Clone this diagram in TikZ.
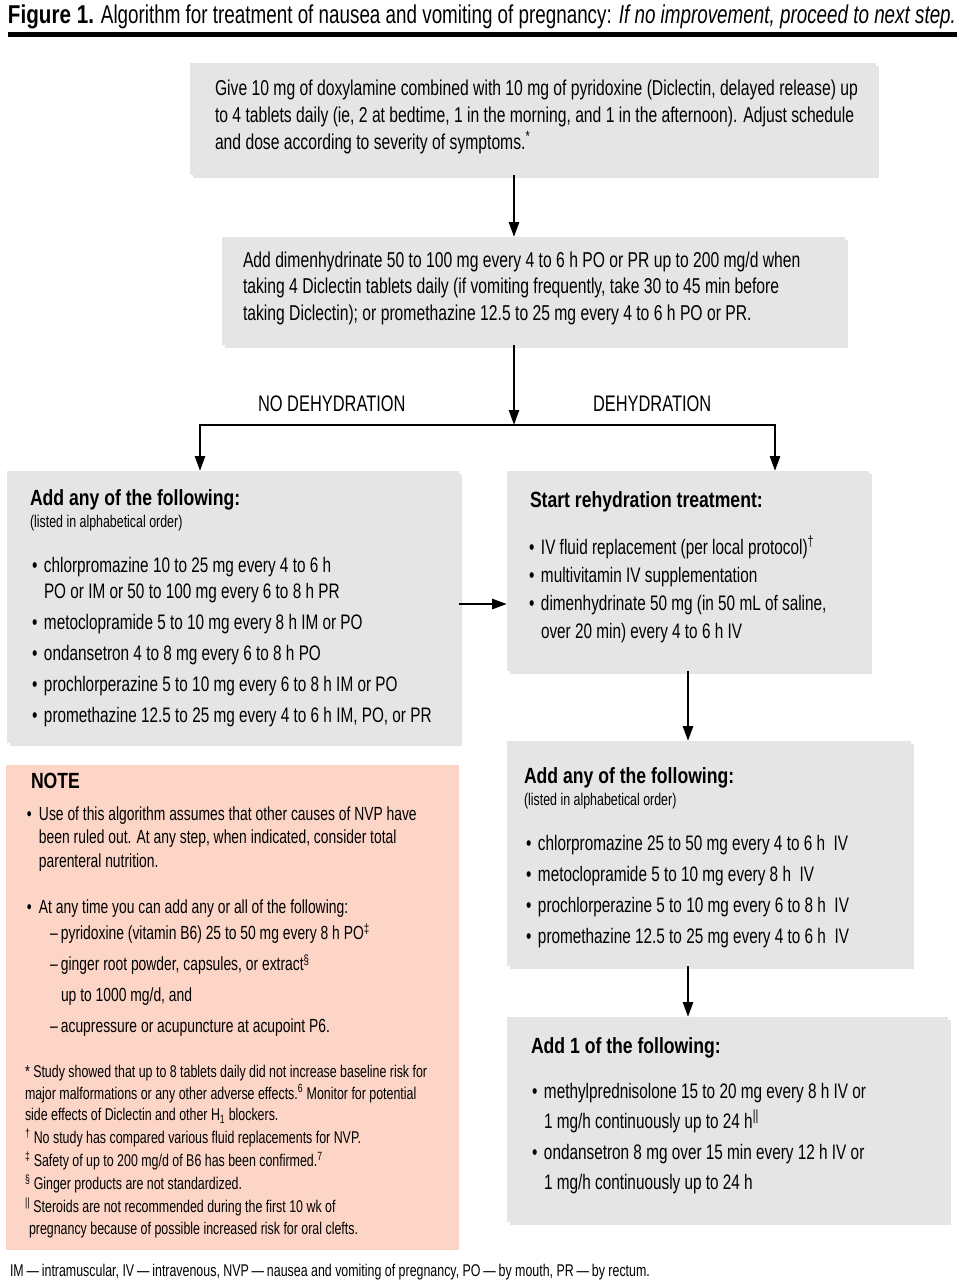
\documentclass[tikz,border=0pt]{standalone}
\usepackage{fontspec}
\setmainfont{Liberation Sans}[FakeStretch=0.73]
\newfontfamily\hdfont{Liberation Sans}[FakeStretch=0.8]
\usetikzlibrary{arrows.meta,shadows}
\definecolor{boxgray}{RGB}{229,229,229}
\definecolor{notepink}{RGB}{252,213,199}
\newcommand\bitem{\makebox[12pt][l]{\textbullet}}
\newcommand\bcont{\hspace*{12pt}}
\tikzset{
  box/.style={fill=boxgray, draw=none, inner sep=0pt, outer sep=0pt,
    drop shadow={shadow xshift=3pt, shadow yshift=-3pt, fill=black, opacity=0.10}},
  notebox/.style={fill=notepink, draw=none, inner sep=0pt, outer sep=0pt},
  txt/.style={anchor=base west, inner sep=0pt, outer sep=0pt, align=left},
  body/.style={txt, font=\fontsize{21}{27}\selectfont},
  head/.style={txt, font=\hdfont\bfseries\fontsize{22}{25}\selectfont},
  small/.style={txt, font=\fontsize{17}{20}\selectfont},
  lbl/.style={txt, font=\fontsize{22.5}{25}\selectfont},
  ln/.style={line width=2.7pt, draw=black},
  arr/.style={ln, -{Triangle[length=15pt, width=10pt]}},
}
\begin{document}
\begin{tikzpicture}[x=1pt, y=-1pt]
\useasboundingbox (0,0) rectangle (968,1280);

% title
\node[txt, font=\fontsize{25.8}{30}\selectfont] (title) at (8,23)
  {{\hdfont\bfseries Figure 1.} Algorithm for treatment of nausea and vomiting of pregnancy: \textit{If no improvement, proceed to next step.}};
\draw[line width=4.5pt] (8,34.5) -- (957,34.5);

% boxes
\node[box, minimum width=686pt, minimum height=112pt] (b1) at (533,119) {};
\node[box, minimum width=623pt, minimum height=108pt] (b2) at (533.5,291) {};
\node[box, minimum width=452pt, minimum height=272pt] (b3) at (233,607) {};
\node[box, minimum width=362pt, minimum height=200pt] (b4) at (688,571) {};
\node[box, minimum width=404pt, minimum height=225pt] (b5) at (709,853.5) {};
\node[box, minimum width=441pt, minimum height=205pt] (b6) at (727.5,1119.5) {};
\node[notebox, minimum width=453pt, minimum height=485pt] (note) at (232.5,1007.5) {};

% box 1 (anchor = last baseline)
\node[body, font=\fontsize{21.5}{27}\selectfont] (t1) at (215,149) {Give 10 mg of doxylamine combined with 10 mg of pyridoxine (Diclectin, delayed release) up\\
to 4 tablets daily (ie, 2 at bedtime, 1 in the morning, and 1 in the afternoon). Adjust schedule\\
and dose according to severity of symptoms.\textsuperscript{*}};

% box 2
\node[body, font=\fontsize{21.5}{26.5}\selectfont] (t2) at (243,320) {Add dimenhydrinate 50 to 100 mg every 4 to 6 h PO or PR up to 200 mg/d when\\
taking 4 Diclectin tablets daily (if vomiting frequently, take 30 to 45 min before\\
taking Diclectin); or promethazine 12.5 to 25 mg every 4 to 6 h PO or PR.};

% branch labels
\node[lbl] (lno) at (258,411) {NO DEHYDRATION};
\node[lbl] (lyes) at (593,411) {DEHYDRATION};

% box 3
\node[head] (h3) at (30,505) {Add any of the following:};
\node[small] (s3) at (30,527) {(listed in alphabetical order)};
\node[body, font=\fontsize{21}{26}\selectfont] (t3) at (32,722) {\bitem chlorpromazine 10 to 25 mg every 4 to 6 h\\
\bcont PO or IM or 50 to 100 mg every 6 to 8 h PR\\[5pt]
\bitem metoclopramide 5 to 10 mg every 8 h IM or PO\\[5pt]
\bitem ondansetron 4 to 8 mg every 6 to 8 h PO\\[5pt]
\bitem prochlorperazine 5 to 10 mg every 6 to 8 h IM or PO\\[5pt]
\bitem promethazine 12.5 to 25 mg every 4 to 6 h IM, PO, or PR};

% box 4
\node[head] (h4) at (530,507) {Start rehydration treatment:};
\node[body, font=\fontsize{21}{28}\selectfont] (t4) at (529,638) {\bitem IV fluid replacement (per local protocol)\textsuperscript{\dag}\\
\bitem multivitamin IV supplementation\\
\bitem dimenhydrinate 50 mg (in 50 mL of saline,\\
\bcont over 20 min) every 4 to 6 h IV};

% box 5
\node[head] (h5) at (524,783) {Add any of the following:};
\node[small] (s5) at (524,805) {(listed in alphabetical order)};
\node[body, font=\fontsize{21}{31}\selectfont] (t5) at (526,943) {\bitem chlorpromazine 25 to 50 mg every 4 to 6 h\ \ IV\\
\bitem metoclopramide 5 to 10 mg every 8 h\ \ IV\\
\bitem prochlorperazine 5 to 10 mg every 6 to 8 h\ \ IV\\
\bitem promethazine 12.5 to 25 mg every 4 to 6 h\ \ IV};

% box 6
\node[head] (h6) at (531,1053) {Add 1 of the following:};
\node[body, font=\fontsize{21}{30.5}\selectfont] (t6) at (532,1189.5) {\bitem methylprednisolone 15 to 20 mg every 8 h IV or\\
\bcont 1 mg/h continuously up to 24 h\textsuperscript{||}\\
\bitem ondansetron 8 mg over 15 min every 12 h IV or\\
\bcont 1 mg/h continuously up to 24 h};

% note
\node[head] (hn) at (31,788) {NOTE};
\node[txt, font=\fontsize{19}{23.5}\selectfont] (n1) at (27,867) {\bitem Use of this algorithm assumes that other causes of NVP have\\
\bcont been ruled out. At any step, when indicated, consider total\\
\bcont parenteral nutrition.};
\node[txt, font=\fontsize{19}{23.5}\selectfont] (n2) at (27,913) {\bitem At any time you can add any or all of the following:};
\node[txt, font=\fontsize{19}{30.7}\selectfont] (n3) at (50,1032) {--\,pyridoxine (vitamin B6) 25 to 50 mg every 8 h PO\textsuperscript{\ddag}\\
--\,ginger root powder, capsules, or extract\textsuperscript{\S}\\
\hspace*{11pt}up to 1000 mg/d, and\\
--\,acupressure or acupuncture at acupoint P6.};
\node[small, font=\fontsize{17}{21.5}\selectfont] (fn) at (25,1234) {* Study showed that up to 8 tablets daily did not increase baseline risk for\\
major malformations or any other adverse effects.\textsuperscript{6} Monitor for potential\\
side effects of Diclectin and other H\textsubscript{1} blockers.\\[1.5pt]
\textsuperscript{\dag} No study has compared various fluid replacements for NVP.\\[1.5pt]
\textsuperscript{\ddag} Safety of up to 200 mg/d of B6 has been confirmed.\textsuperscript{7}\\[1.5pt]
\textsuperscript{\S} Ginger products are not standardized.\\[1.5pt]
\textsuperscript{||} Steroids are not recommended during the first 10 wk of\\
\hspace*{4pt}pregnancy because of possible increased risk for oral clefts.};

% footer
\node[txt, font=\fontsize{17}{20}\selectfont] (foot) at (10,1276) {IM\,---\,intramuscular, IV\,---\,intravenous, NVP\,---\,nausea and vomiting of pregnancy, PO\,---\,by mouth, PR\,---\,by rectum.};

% connectors
\coordinate (cx) at (514,0);
\coordinate (j) at (514,425);
\coordinate (jl) at (200,425);
\coordinate (jr) at (775,425);
\coordinate (hy) at (0,604);
\draw[arr] (b1.south -| cx) -- (b2.north -| cx);
\draw[arr] (b2.south -| cx) -- (j);
\draw[ln, line cap=rect] (jl) -- (jr);
\draw[arr] (jl) -- (jl |- b3.north);
\draw[arr] (jr) -- (jr |- b4.north);
\draw[arr] (b3.east |- hy) -- (b4.west |- hy);
\draw[arr] (b4.south) -- (b4.south |- b5.north);
\draw[arr] (b5.south -| b4.south) -- (b4.south |- b6.north);
\end{tikzpicture}
\end{document}
